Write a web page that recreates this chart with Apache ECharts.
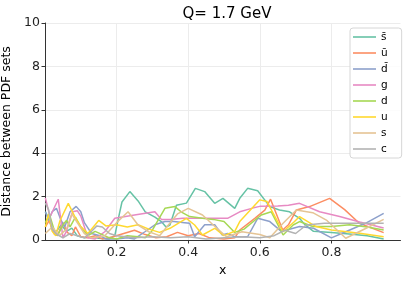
<!DOCTYPE html>
<html><head><meta charset="utf-8">
<script src="https://cdn.jsdelivr.net/npm/echarts@6/dist/echarts.min.js"></script>
<style>html,body{margin:0;padding:0;background:#fff}#c{width:407px;height:281px}</style>
</head><body><div id="c"></div>
<script>
const seriesNames = ['s\u0304','\u016b','d\u0304','g','d','u','s','c'];
const colors = ['#66c2a5','#fc8d62','#8da0cb','#e78ac3','#a6d854','#ffd92f','#e5c494','#b3b3b3'];
const xTicks = [0.2,0.4,0.6,0.8];
const yTicks = [0,2,4,6,8,10];

const sbar = [[0.001,1.3],[0.01,1.0],[0.02,0.5],[0.03,0.35],[0.045,0.7],[0.06,0.4],[0.075,0.55],[0.09,0.2],[0.11,0.1],[0.13,0.15],[0.15,0.08],[0.18,0.05],[0.195,0.2],[0.205,1.0],[0.215,1.75],[0.237,2.23],[0.26,1.8],[0.28,1.3],[0.307,1.05],[0.325,0.85],[0.338,0.6],[0.349,0.69],[0.367,1.6],[0.395,1.7],[0.42,2.38],[0.446,2.23],[0.474,1.69],[0.497,1.92],[0.53,1.46],[0.544,1.92],[0.566,2.38],[0.594,2.27],[0.628,1.54],[0.655,1.38],[0.683,1.3],[0.711,1.0],[0.725,0.72],[0.75,0.4],[0.8,0.35],[0.85,0.28],[0.9,0.2],[0.946,0.05]];
const ubar = [[0.001,0.6],[0.012,0.9],[0.025,0.3],[0.035,0.2],[0.05,0.8],[0.062,0.35],[0.075,0.2],[0.085,0.6],[0.1,0.15],[0.12,0.1],[0.14,0.2],[0.16,0.05],[0.19,0.15],[0.22,0.3],[0.25,0.45],[0.28,0.25],[0.31,0.1],[0.34,0.15],[0.37,0.35],[0.4,0.2],[0.43,0.3],[0.46,0.1],[0.5,0.05],[0.53,0.1],[0.544,0.46],[0.586,1.0],[0.614,1.38],[0.63,1.88],[0.664,0.46],[0.68,0.7],[0.702,1.38],[0.739,1.54],[0.795,1.92],[0.837,1.4],[0.878,0.77],[0.946,0.34]];
const dbar = [[0.001,1.3],[0.01,0.9],[0.02,1.3],[0.032,1.46],[0.045,0.9],[0.055,0.6],[0.07,1.3],[0.087,1.55],[0.1,1.3],[0.11,0.8],[0.13,0.3],[0.153,0.2],[0.17,0.05],[0.2,0.05],[0.23,0.1],[0.25,0.05],[0.279,0.38],[0.307,0.7],[0.335,0.85],[0.36,0.85],[0.39,0.8],[0.404,0.77],[0.418,0.15],[0.446,0.7],[0.474,0.7],[0.495,0.23],[0.51,0.3],[0.53,0.15],[0.566,0.15],[0.594,1.0],[0.628,0.85],[0.66,0.4],[0.683,0.5],[0.711,0.62],[0.75,0.54],[0.8,0.1],[0.84,0.38],[0.895,0.77],[0.946,1.23]];
const gluon = [[0.001,1.94],[0.014,1.07],[0.037,1.88],[0.05,0.1],[0.06,0.4],[0.077,1.3],[0.09,1.35],[0.1,1.1],[0.12,0.1],[0.14,0.05],[0.167,0.38],[0.195,1.0],[0.25,1.15],[0.307,1.3],[0.325,0.95],[0.35,0.95],[0.385,1.0],[0.45,1.0],[0.51,1.0],[0.544,1.3],[0.58,1.47],[0.6,1.55],[0.65,1.57],[0.68,1.6],[0.711,1.69],[0.767,1.3],[0.823,1.08],[0.879,0.83],[0.946,0.55]];
const dq = [[0.001,0.8],[0.012,1.2],[0.025,0.5],[0.035,0.2],[0.05,0.7],[0.06,0.9],[0.07,0.6],[0.085,1.05],[0.1,0.6],[0.12,0.2],[0.14,0.4],[0.16,0.25],[0.18,0.1],[0.2,0.05],[0.23,0.2],[0.26,0.15],[0.28,0.1],[0.297,0.38],[0.335,1.46],[0.363,1.54],[0.38,1.3],[0.404,1.08],[0.44,1.0],[0.47,0.95],[0.5,0.85],[0.53,0.35],[0.556,0.5],[0.604,1.15],[0.632,1.3],[0.665,0.23],[0.693,0.69],[0.711,0.85],[0.748,0.62],[0.8,0.62],[0.851,0.7],[0.9,0.6],[0.946,0.46]];
const uq = [[0.001,0.6],[0.01,1.2],[0.02,0.4],[0.03,0.2],[0.042,0.9],[0.065,1.69],[0.088,0.92],[0.1,0.62],[0.12,0.3],[0.15,0.9],[0.17,0.65],[0.2,0.7],[0.23,0.6],[0.26,0.7],[0.29,0.5],[0.32,0.35],[0.349,0.54],[0.395,1.0],[0.418,0.69],[0.44,0.23],[0.474,0.54],[0.5,0.2],[0.53,0.4],[0.544,0.85],[0.6,1.85],[0.62,1.77],[0.665,0.38],[0.697,0.85],[0.711,1.08],[0.757,0.62],[0.8,0.46],[0.879,0.31],[0.946,0.15]];
const sq = [[0.001,0.3],[0.02,0.6],[0.04,0.2],[0.06,0.5],[0.075,1.2],[0.09,0.8],[0.11,0.3],[0.13,0.1],[0.15,0.15],[0.167,0.2],[0.2,0.8],[0.232,1.3],[0.26,0.69],[0.29,0.38],[0.32,0.2],[0.34,0.6],[0.37,1.2],[0.4,1.46],[0.44,1.15],[0.47,0.69],[0.507,0.15],[0.55,0.38],[0.6,0.25],[0.628,0.1],[0.665,0.77],[0.702,1.38],[0.748,1.26],[0.786,0.92],[0.84,0.08],[0.897,0.54],[0.946,0.95]];
const cq = [[0.001,1.7],[0.01,1.4],[0.02,0.5],[0.03,0.3],[0.05,0.1],[0.07,0.3],[0.09,0.2],[0.11,0.1],[0.13,0.4],[0.145,0.65],[0.16,0.6],[0.18,0.3],[0.2,0.2],[0.25,0.1],[0.3,0.15],[0.35,0.1],[0.4,0.15],[0.45,0.05],[0.5,0.1],[0.55,0.15],[0.6,0.1],[0.64,0.2],[0.67,0.45],[0.7,0.3],[0.73,0.69],[0.78,0.77],[0.85,0.77],[0.946,0.77]];

const allData = [sbar, ubar, dbar, gluon, dq, uq, sq, cq];
const FONT = 'DejaVu Sans';

const chart = echarts.init(document.getElementById('c'), null, {renderer:'canvas'});
chart.setOption({
  animation: false,
  backgroundColor: '#fff',
  textStyle: {fontFamily: FONT},
  title: {text: 'Q= 1.7 GeV', left: 222, top: 2, textAlign: 'center',
    textStyle: {fontFamily: FONT, fontSize: 15, fontWeight: 'normal', color: '#000'}},
  grid: {left: 45, right: 6.5, top: 23, bottom: 41, containLabel: false, outerBoundsMode: 'none'},
  legend: {
    orient: 'vertical', left: 350, top: 28,
    data: seriesNames,
    icon: 'rect',
    itemWidth: 23, itemHeight: 1.6, itemGap: 2,
    padding: [2, 14, 2, 3],
    backgroundColor: 'rgba(255,255,255,0.85)',
    borderColor: '#d6d6d6', borderWidth: 1, borderRadius: 3,
    textStyle: {fontFamily: FONT, fontSize: 10.5, color: '#000', lineHeight: 14, height: 14}
  },
  xAxis: {
    type: 'value', min: 0, max: 0.993, interval: 0.2,
    name: 'x', nameLocation: 'middle', nameGap: 22,
    nameTextStyle: {fontFamily: FONT, fontSize: 12.5, color: '#000'},
    axisLine: {show: true, lineStyle: {color: '#333', width: 1}},
    axisTick: {show: true, inside: false, length: 3.5, customValues: xTicks, lineStyle: {color: '#333'}},
    axisLabel: {customValues: xTicks, formatter: v => v.toFixed(1), margin: 6,
      fontFamily: FONT, fontSize: 12.5, color: '#222'},
    splitLine: {show: true, lineStyle: {color: '#ececec', width: 1}}
  },
  yAxis: {
    type: 'value', min: 0, max: 10, interval: 2,
    name: 'Distance between PDF sets', nameLocation: 'middle', nameGap: 24,
    nameTextStyle: {fontFamily: FONT, fontSize: 12.5, color: '#000'},
    axisLine: {show: true, lineStyle: {color: '#333', width: 1}},
    axisTick: {show: true, inside: false, length: 3.5, lineStyle: {color: '#333'}},
    axisLabel: {margin: 5, fontFamily: FONT, fontSize: 12.5, color: '#222',
      formatter: v => yTicks.includes(v) ? String(v) : ''},
    splitLine: {show: true, lineStyle: {color: '#ececec', width: 1}}
  },
  series: allData.map((d, i) => ({
    name: seriesNames[i], type: 'line', data: d,
    symbol: 'none', showSymbol: false,
    lineStyle: {color: colors[i], width: 1.5},
    itemStyle: {color: colors[i]},
    z: 2 + i
  }))
});
</script></body></html>
